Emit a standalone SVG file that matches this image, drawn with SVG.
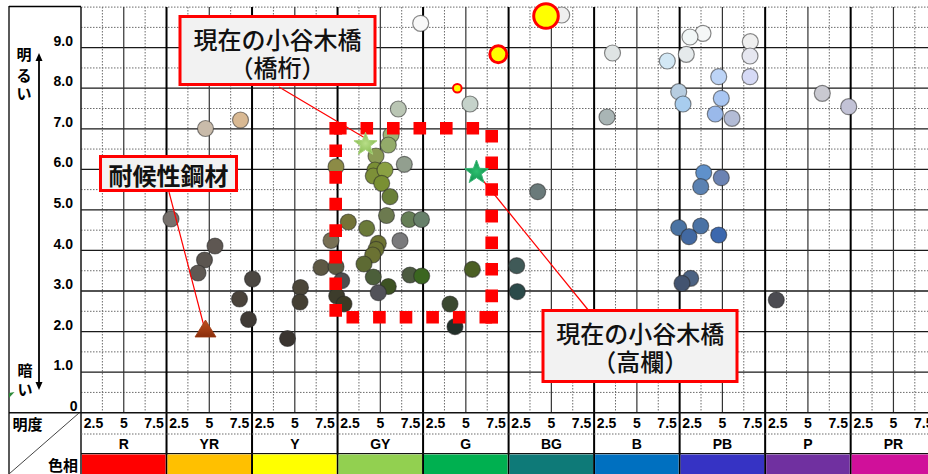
<svg xmlns="http://www.w3.org/2000/svg" width="928" height="474" viewBox="0 0 928 474">
<style>
.gdot{fill:none;stroke:#6b6b6b;stroke-width:1;stroke-dasharray:1.5 1.5}
.gint{stroke:#1a1a1a;stroke-width:1.3}
.gmid{stroke:#333;stroke-width:1.2}
.gblk{stroke:#000;stroke-width:2}
.pt{stroke:rgba(40,40,40,0.55);stroke-width:1.2}
.num{font-family:"Liberation Sans",Arial,sans-serif;font-weight:700;font-size:14px;fill:#000}
.hue{font-family:"Liberation Sans",Arial,sans-serif;font-weight:700;font-size:14px;fill:#000;text-anchor:middle}
.jp{font-family:"Noto Sans CJK JP","Noto Sans CJK SC",sans-serif;font-weight:700;font-size:15px;fill:#000}
.callout rect{fill:#F2F2F2;stroke:#FF0000;stroke-width:3}
.callout text{font-family:"Noto Sans CJK JP","Noto Sans CJK SC",sans-serif;font-size:24px;fill:#111;text-anchor:middle;font-weight:500}
.leader{stroke:#FF0000;stroke-width:1.2;fill:none}
.focus{stroke:#FF0000;stroke-width:12.6;fill:none}
.yel{fill:#FFFF00;stroke:#FF0000}
</style>
<defs>
<path id="star" d="M0,-12.5 L3.06,-4.21 L11.89,-3.86 L4.95,1.61 L7.35,10.11 L0,5.2 L-7.35,10.11 L-4.95,1.61 L-11.89,-3.86 L-3.06,-4.21 Z"/>
<radialGradient id="starLight" cx="0.5" cy="0.5" r="0.6">
<stop offset="0" stop-color="#B8DE88"/><stop offset="1" stop-color="#7DB548"/>
</radialGradient>
<radialGradient id="starGreen" cx="0.5" cy="0.5" r="0.6">
<stop offset="0" stop-color="#2DC070"/><stop offset="1" stop-color="#0B8A48"/>
</radialGradient>
<linearGradient id="triFill" x1="0" y1="0" x2="0" y2="1">
<stop offset="0" stop-color="#C0501E"/><stop offset="1" stop-color="#8A2E0C"/>
</linearGradient>
</defs>
<rect x="0" y="0" width="928" height="474" fill="#FFFFFF"/>

<g id="grid">
<path class="gdot" d="M81,392.42H928M81,351.86H928M81,311.3H928M81,270.74H928M81,230.18H928M81,189.62H928M81,149.06H928M81,108.5H928M81,67.94H928M81,27.38H928M81,7.1H928"/>
<path class="gdot" d="M102.38,7V413M145.14,7V413M187.9,7V413M230.66,7V413M273.42,7V413M316.18,7V413M358.94,7V413M401.7,7V413M444.46,7V413M487.22,7V413M529.98,7V413M572.74,7V413M615.5,7V413M658.26,7V413M701.02,7V413M743.78,7V413M786.54,7V413M829.3,7V413M872.06,7V413M914.82,7V413"/>
<path class="gint" d="M81,372.14H928M81,331.58H928M81,291.02H928M81,250.46H928M81,209.9H928M81,169.34H928M81,128.78H928M81,88.22H928M81,47.66H928"/>
<path class="gmid" d="M123.76,7V413M209.28,7V413M294.8,7V413M380.32,7V413M465.84,7V413M551.36,7V413M636.88,7V413M722.4,7V413M807.92,7V413M893.44,7V413"/>
<path class="gblk" d="M166.52,7V474M252.04,7V474M337.56,7V474M423.08,7V474M508.6,7V474M594.12,7V474M679.64,7V474M765.16,7V474M850.68,7V474"/>
<path d="M81,7V474" stroke="#222" stroke-width="1.6"/>
<path d="M9,412.7H928" stroke="#111" stroke-width="1.5"/>
<path class="gdot" d="M81,434H928"/>
<path d="M81,453.6H928" stroke="#111" stroke-width="1.2"/>
<path d="M9,6.5H81" stroke="#000" stroke-width="1.3"/>
<path d="M9,6V474" stroke="#000" stroke-width="1.3"/>
<path d="M9,474L79,413" stroke="#444" stroke-width="1"/>
</g>

<g id="hue-bar">
<rect x="82" y="454.5" width="83.5" height="20" fill="#FF0000"/>
<rect x="167.5" y="454.5" width="83.5" height="20" fill="#FFC000"/>
<rect x="253" y="454.5" width="83.5" height="20" fill="#FFFF00"/>
<rect x="338.5" y="454.5" width="83.5" height="20" fill="#92D050"/>
<rect x="424" y="454.5" width="83.5" height="20" fill="#00B050"/>
<rect x="509.6" y="454.5" width="83.5" height="20" fill="#0E7A78"/>
<rect x="595.1" y="454.5" width="83.5" height="20" fill="#0070C0"/>
<rect x="680.6" y="454.5" width="83.5" height="20" fill="#3633C4"/>
<rect x="766.2" y="454.5" width="83.5" height="20" fill="#7030A0"/>
<rect x="851.7" y="454.5" width="80" height="20" fill="#D0109A"/>
</g>

<g id="axis-labels">
<text class="num" text-anchor="end" x="73" y="45.5">9.0</text>
<text class="num" text-anchor="end" x="73" y="86.2">8.0</text>
<text class="num" text-anchor="end" x="73" y="126.8">7.0</text>
<text class="num" text-anchor="end" x="73" y="167.3">6.0</text>
<text class="num" text-anchor="end" x="73" y="207.9">5.0</text>
<text class="num" text-anchor="end" x="73" y="248.5">4.0</text>
<text class="num" text-anchor="end" x="73" y="289">3.0</text>
<text class="num" text-anchor="end" x="73" y="329.6">2.0</text>
<text class="num" text-anchor="end" x="73" y="370.1">1.0</text>
<text class="num" text-anchor="end" x="77.5" y="410.5">0</text>
<text class="jp" x="24" y="60" text-anchor="middle">明</text>
<text class="jp" x="24" y="80.5" text-anchor="middle">る</text>
<text class="jp" x="24" y="98.5" text-anchor="middle">い</text>
<text class="jp" x="25" y="375.5" text-anchor="middle">暗</text>
<text class="jp" x="25" y="394.5" text-anchor="middle">い</text>
<path d="M39,60V383" stroke="#000" stroke-width="1.8"/>
<polygon points="39,53 35.5,61 42.5,61" fill="#000"/>
<polygon points="39,390 35.5,382 42.5,382" fill="#000"/>
<polygon points="9,393 14.5,392 9,398" fill="#2E8B3A"/>
<text class="jp" x="12.5" y="430">明度</text>
<text class="jp" x="78" y="470.5" text-anchor="end">色相</text>
</g>

<g id="value-labels" class="num" text-anchor="middle" font-size="13.5">
<text x="93.5" y="428">2.5</text><text x="123.8" y="428">5</text><text x="154" y="428">7.5</text>
<text x="179" y="428">2.5</text><text x="209.3" y="428">5</text><text x="239.5" y="428">7.5</text>
<text x="264.5" y="428">2.5</text><text x="294.8" y="428">5</text><text x="325" y="428">7.5</text>
<text x="350" y="428">2.5</text><text x="380.3" y="428">5</text><text x="410.6" y="428">7.5</text>
<text x="435.6" y="428">2.5</text><text x="465.8" y="428">5</text><text x="496.1" y="428">7.5</text>
<text x="521.1" y="428">2.5</text><text x="551.4" y="428">5</text><text x="581.6" y="428">7.5</text>
<text x="606.6" y="428">2.5</text><text x="636.9" y="428">5</text><text x="667.1" y="428">7.5</text>
<text x="692.1" y="428">2.5</text><text x="722.4" y="428">5</text><text x="752.6" y="428">7.5</text>
<text x="777.7" y="428">2.5</text><text x="807.9" y="428">5</text><text x="838.2" y="428">7.5</text>
<text x="863.2" y="428">2.5</text><text x="893.4" y="428">5</text><text x="923.7" y="428">7.5</text>
</g>
<g id="hue-labels">
<text class="hue" x="123.8" y="448.5">R</text>
<text class="hue" x="209.3" y="448.5">YR</text>
<text class="hue" x="294.8" y="448.5">Y</text>
<text class="hue" x="380.3" y="448.5">GY</text>
<text class="hue" x="465.8" y="448.5">G</text>
<text class="hue" x="551.4" y="448.5">BG</text>
<text class="hue" x="636.9" y="448.5">B</text>
<text class="hue" x="722.4" y="448.5">PB</text>
<text class="hue" x="807.9" y="448.5">P</text>
<text class="hue" x="893.4" y="448.5">PR</text>
</g>

<g id="points-R-YR-Y" class="pt">
<circle cx="171" cy="219" r="8" fill="#77716D"/>
<circle cx="205.5" cy="128.5" r="8" fill="#C9BBAA"/>
<circle cx="240.5" cy="120" r="8" fill="#D9B993"/>
<circle cx="215" cy="246" r="8" fill="#5E5752"/>
<circle cx="204.5" cy="260" r="8" fill="#5B5550"/>
<circle cx="198" cy="273" r="8" fill="#5F5954"/>
<circle cx="252.5" cy="279" r="8" fill="#4B4742"/>
<circle cx="239.5" cy="299" r="8" fill="#4A433B"/>
<circle cx="248.5" cy="319.5" r="8" fill="#3F3A35"/>
<circle cx="287.5" cy="338.5" r="8" fill="#3A3530"/>
<circle cx="300.5" cy="287.5" r="8" fill="#4B4639"/>
<circle cx="300" cy="302" r="8" fill="#443F33"/>
<circle cx="321" cy="267.5" r="8" fill="#5D5844"/>
</g>
<g id="points-GY" class="pt">
<circle cx="331" cy="240.5" r="8" fill="#787055"/>
<circle cx="336" cy="266.7" r="8" fill="#5C5B42"/>
<circle cx="341.7" cy="280.7" r="8" fill="#4E4E4E"/>
<circle cx="336.7" cy="296" r="8" fill="#3D3C2B"/>
<circle cx="344" cy="304" r="8" fill="#3B3A24"/>
<circle cx="336" cy="166.7" r="8" fill="#8C8B46"/>
<circle cx="348.3" cy="222" r="8" fill="#737338"/>
<circle cx="366.7" cy="228.3" r="8" fill="#6B7A3A"/>
<circle cx="398.3" cy="109" r="8" fill="#BAC6B4"/>
<circle cx="391" cy="135" r="8" fill="#9CB374"/>
<circle cx="388.3" cy="145" r="8" fill="#93AB6A"/>
<circle cx="376" cy="156" r="8" fill="#8B9B55"/>
<circle cx="404.3" cy="164.3" r="8" fill="#929F8F"/>
<circle cx="375" cy="170" r="8" fill="#7A8F35"/>
<circle cx="373.3" cy="176" r="8" fill="#7D9038"/>
<circle cx="385" cy="170" r="8" fill="#8AA042"/>
<circle cx="381.7" cy="183.3" r="8" fill="#7A9033"/>
<circle cx="390" cy="196.7" r="8" fill="#6A8038"/>
<circle cx="386.5" cy="215.5" r="8" fill="#6C7A4F"/>
<circle cx="409" cy="219.5" r="8" fill="#667F56"/>
<circle cx="421.5" cy="219.5" r="8" fill="#67806A"/>
<circle cx="400" cy="240.7" r="8" fill="#7A7A7C"/>
<circle cx="378.3" cy="243.3" r="8" fill="#6C7232"/>
<circle cx="376" cy="249.3" r="8" fill="#6A7231"/>
<circle cx="372.7" cy="255" r="8" fill="#6B7233"/>
<circle cx="364" cy="264" r="8" fill="#5D6A33"/>
<circle cx="373.3" cy="277" r="8" fill="#4C5F3A"/>
<circle cx="388.3" cy="286.5" r="8" fill="#3D5223"/>
<circle cx="378.3" cy="292.7" r="8" fill="#525259"/>
<circle cx="410" cy="275" r="8" fill="#4C5A40"/>
<circle cx="421.7" cy="276" r="8" fill="#3B6620"/>
</g>
<g id="points-G-BG" class="pt">
<circle cx="420.7" cy="23.3" r="8" fill="#F8F8F8"/>
<circle cx="470" cy="104" r="8" fill="#C5D2CA"/>
<circle cx="472.3" cy="269.3" r="8" fill="#4B5F24"/>
<circle cx="450" cy="304" r="8" fill="#3B4830"/>
<circle cx="455" cy="326.7" r="8" fill="#22302A"/>
<circle cx="561.7" cy="15" r="8" fill="#EFEFEF"/>
<circle cx="537.7" cy="191.7" r="8" fill="#6A7A7A"/>
<circle cx="516.7" cy="265.7" r="8" fill="#405A58"/>
<circle cx="517.3" cy="291.7" r="8" fill="#2B4A49"/>
<circle cx="607" cy="117" r="8" fill="#A9B5B5"/>
<circle cx="612.5" cy="53" r="8" fill="#DFE4E4"/>
</g>
<g id="points-B-PB-P" class="pt">
<circle cx="703" cy="33.3" r="8" fill="#F5F7F7"/>
<circle cx="690" cy="37" r="8" fill="#F2F7F7"/>
<circle cx="686.3" cy="54.3" r="8" fill="#E5EAEC"/>
<circle cx="667.3" cy="61" r="8" fill="#D3E8F5"/>
<circle cx="750.3" cy="41.7" r="8" fill="#EFEFEF"/>
<circle cx="750" cy="56" r="8" fill="#E6E7F0"/>
<circle cx="750" cy="76.7" r="8" fill="#D6DAF6"/>
<circle cx="718.7" cy="76.7" r="8" fill="#BDD4F6"/>
<circle cx="678.7" cy="91.7" r="8" fill="#B7CDE0"/>
<circle cx="683" cy="104" r="8" fill="#A8CDEE"/>
<circle cx="721.3" cy="98.3" r="8" fill="#A9C6F2"/>
<circle cx="715.3" cy="114" r="8" fill="#9AB9EA"/>
<circle cx="732" cy="118.3" r="8" fill="#B3BCD6"/>
<circle cx="822.3" cy="93.3" r="8" fill="#C9C9D1"/>
<circle cx="848.7" cy="106.7" r="8" fill="#C2C2D6"/>
<circle cx="703.7" cy="172.7" r="8" fill="#5F91CB"/>
<circle cx="721.3" cy="177.7" r="8" fill="#6B83B3"/>
<circle cx="700.7" cy="186.7" r="8" fill="#5B82B2"/>
<circle cx="678.7" cy="227.7" r="8" fill="#4A73A3"/>
<circle cx="700.7" cy="226" r="8" fill="#4A72A4"/>
<circle cx="689" cy="236.7" r="8" fill="#4269A2"/>
<circle cx="718.7" cy="235" r="8" fill="#3C68AE"/>
<circle cx="690.7" cy="278.3" r="8" fill="#4C6383"/>
<circle cx="682" cy="283.3" r="8" fill="#435470"/>
<circle cx="776.3" cy="300" r="8" fill="#4B4B51"/>
</g>
<g id="highlight-points">
<circle class="yel" cx="546" cy="16" r="12.3" stroke-width="3"/>
<circle class="yel" cx="498.3" cy="54.3" r="8.5" stroke-width="3"/>
<circle class="yel" cx="457.3" cy="88.3" r="4.3" stroke-width="2"/>
</g>

<g id="focus-area">
<path class="focus" stroke-dasharray="12.6 13.9" d="M334,128.3H480"/>
<path class="focus" stroke-dasharray="12.6 14" d="M335.7,144.5V317"/>
<path class="focus" stroke-dasharray="12.6 14" d="M346.5,317.3H493"/>
<path class="focus" stroke-dasharray="12.6 14" d="M491.7,130V303"/>
<rect x="329.4" y="122" width="12.6" height="12.6" fill="#FF0000"/>
<rect x="485.4" y="311" width="12.6" height="12.6" fill="#FF0000"/>
</g>

<g id="connectors">
<path class="leader" d="M279,87L365,138"/>
<path class="leader" d="M169,192L206,334"/>
<path class="leader" d="M476.5,172.5L589,311"/>
</g>

<g id="star-girder">
<use href="#star" transform="translate(365.5,144.5) scale(0.97)" fill="url(#starLight)" stroke="#A8D27A" stroke-width="1"/>
</g>
<g id="star-railing">
<use href="#star" transform="translate(476.5,172.5)" fill="url(#starGreen)" stroke="#3CB878" stroke-width="1"/>
</g>
<g id="triangle-weathering-steel">
<polygon points="205.5,320 195,337 216,337" fill="url(#triFill)" stroke="#9A3810" stroke-width="0.8"/>
</g>

<g id="callout-girder" class="callout">
<rect x="180" y="16.5" width="195" height="68"/>
<text x="277.5" y="49">現在の小谷木橋</text>
<text x="277.5" y="77">（橋桁）</text>
</g>
<g id="callout-steel" class="callout">
<rect x="100.5" y="156.5" width="136" height="34"/>
<text x="168.5" y="184.5" style="font-weight:700">耐候性鋼材</text>
</g>
<g id="callout-railing" class="callout">
<rect x="543" y="310.5" width="194" height="71"/>
<text x="640.2" y="342.5">現在の小谷木橋</text>
<text x="640.2" y="371">（高欄）</text>
</g>
</svg>
